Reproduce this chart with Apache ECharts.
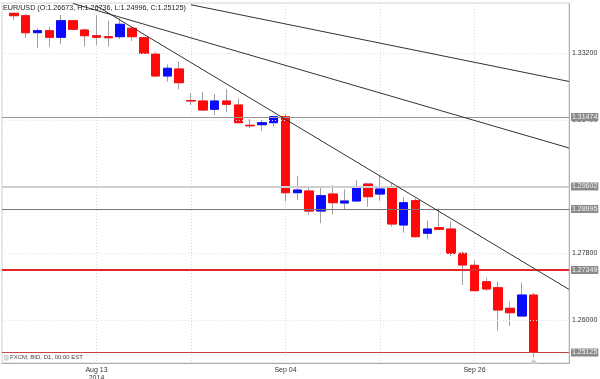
<!DOCTYPE html>
<html>
<head>
<meta charset="utf-8">
<script src="https://cdn.jsdelivr.net/npm/echarts@6/dist/echarts.min.js"></script>
<style>html,body{margin:0;padding:0;background:#fff;}#c{width:600px;height:379px;}</style>
</head>
<body>
<div id="c"></div>
<script>
// Trading days (with one empty day before and three after the data)
const dates = ['2014-08-01',
 '2014-08-04','2014-08-05','2014-08-06','2014-08-07','2014-08-08',
 '2014-08-11','2014-08-12','2014-08-13','2014-08-14','2014-08-15',
 '2014-08-18','2014-08-19','2014-08-20','2014-08-21','2014-08-22',
 '2014-08-25','2014-08-26','2014-08-27','2014-08-28','2014-08-29',
 '2014-09-01','2014-09-02','2014-09-03','2014-09-04','2014-09-05',
 '2014-09-08','2014-09-09','2014-09-10','2014-09-11','2014-09-12',
 '2014-09-15','2014-09-16','2014-09-17','2014-09-18','2014-09-19',
 '2014-09-22','2014-09-23','2014-09-24','2014-09-25','2014-09-26',
 '2014-09-29','2014-09-30','2014-10-01','2014-10-02','2014-10-03',
 '2014-10-06','2014-10-07','2014-10-08'];
const padBefore = 1, padAfter = 3;

const openP  = [1.34270,1.34206,1.33747,1.33801,1.33623,1.34071,1.33820,1.33666,1.33639,1.33639,1.33866,1.33612,1.33173,1.32580,1.32769,1.31919,1.31906,1.31682,1.31906,1.31798,1.31251,1.31267,1.31321,1.31483,1.29433,1.29479,1.28940,1.29398,1.29156,1.29210,1.29668,1.29398,1.29568,1.28563,1.29218,1.28339,1.28490,1.28455,1.27800,1.27476,1.27034,1.26872,1.26317,1.26109,1.26673];
const closeP = [1.34206,1.33747,1.33801,1.33623,1.34071,1.33839,1.33666,1.33623,1.33612,1.33974,1.33639,1.33192,1.32580,1.32788,1.32399,1.31906,1.31663,1.31906,1.31817,1.31321,1.31237,1.31321,1.31483,1.29433,1.29506,1.28940,1.29353,1.29164,1.29210,1.29568,1.29326,1.29533,1.28590,1.29164,1.28247,1.28455,1.28447,1.27800,1.27484,1.26791,1.26837,1.26271,1.26198,1.26675,1.25125];
const lowP   = [1.34090,1.33604,1.33327,1.33370,1.33435,1.33820,1.33370,1.33416,1.33370,1.33577,1.33524,1.33173,1.32566,1.32426,1.32221,1.31798,1.31650,1.31528,1.31601,1.31310,1.31170,1.31097,1.31213,1.29191,1.29229,1.28832,1.28608,1.28851,1.28967,1.29196,1.29056,1.29218,1.28517,1.28355,1.28226,1.28177,1.28442,1.27727,1.26945,1.26783,1.26791,1.25713,1.25839,1.26100,1.24996];
const highP  = [1.34290,1.34252,1.33866,1.33909,1.34225,1.34090,1.33866,1.34225,1.34071,1.34136,1.33909,1.33639,1.33235,1.32895,1.32965,1.32122,1.32157,1.32095,1.32221,1.31979,1.31421,1.31394,1.31501,1.31555,1.29884,1.29595,1.29595,1.29641,1.29525,1.29776,1.29681,1.29911,1.29687,1.29309,1.29282,1.28679,1.29013,1.28652,1.27845,1.27619,1.27142,1.27034,1.26495,1.27007,1.26736];

// Price grid and labelled levels
const gridLevels = [1.260, 1.278, 1.296, 1.314, 1.332];
const keyLevels  = [1.31474, 1.29602, 1.28995, 1.27349, 1.25125];
const keyColors  = ['#9a9a9a', '#d0d0d0', '#777777', '#e3262a', '#c84444'];
const keyWidths  = [1, 2, 1, 2, 1];

// Trend lines: [category index, price] pairs
const trendLines = [
  [[16, 1.34500], [48, 1.32432]],
  [[6, 1.34535], [48, 1.30639]],
  [[8, 1.34470], [48, 1.26826]]
];

const yMin = 1.24842, yMax = 1.34548;
const months = ['Jan','Feb','Mar','Apr','May','Jun','Jul','Aug','Sep','Oct','Nov','Dec'];

const pad = (arr) => Array(padBefore).fill('-').concat(arr, Array(padAfter).fill('-'));
const wickData = pad(openP.map((o, i) => [o, closeP[i], lowP[i], highP[i]]));
const bodyData = pad(openP.map((o, i) => [o, closeP[i], Math.min(o, closeP[i]), Math.max(o, closeP[i])]));
const n = openP.length - 1;
const titleText = 'EUR/USD (O:' + openP[n].toFixed(5) + ', H:' + highP[n].toFixed(5) +
  ', L:' + lowP[n].toFixed(5) + ', C:' + closeP[n].toFixed(5) + ')';

const FONT = 'Liberation Sans, Arial, sans-serif';
const chart = echarts.init(document.getElementById('c'));
chart.setOption({
  animation: false,
  backgroundColor: '#fff',
  title: {
    text: titleText, left: 3, top: 5, padding: 0,
    textStyle: {fontSize: 7.2, fontWeight: 'normal', color: '#222', fontFamily: FONT}
  },
  grid: {left: 2, right: 31, top: 3, bottom: 16, show: true, borderColor: '#d4d4d4', borderWidth: 1,
    backgroundColor: '#fff', containLabel: false, outerBoundsMode: 'none'},
  xAxis: {
    type: 'category', data: dates, boundaryGap: false,
    axisLine: {show: true, lineStyle: {color: '#aaa'}},
    axisTick: {show: false},
    splitLine: {show: true, interval: 7, lineStyle: {color: '#ddd', type: [1, 2]}},
    axisLabel: {
      interval: (idx) => idx % 16 === 8,
      margin: 3, fontSize: 7, lineHeight: 8, color: '#333', fontFamily: FONT,
      formatter: (v, idx) => {
        const d = new Date(v + 'T00:00:00');
        let s = months[d.getMonth()] + ' ' + String(d.getDate()).padStart(2, '0');
        if (idx === 8) s += '\n' + d.getFullYear();
        return s;
      }
    }
  },
  yAxis: {
    type: 'value', position: 'right', min: yMin, max: yMax,
    axisLine: {show: true, lineStyle: {color: '#b0b0b0'}},
    axisTick: {show: false}, axisLabel: {show: false}, splitLine: {show: false}
  },
  series: [
    {
      type: 'line', data: pad(openP.map(() => '-')), showSymbol: false, silent: true, z: 1,
      markLine: {
        silent: true, symbol: ['none', 'none'], animation: false, precision: 5,
        data: gridLevels.map(v => ({yAxis: v})),
        lineStyle: {color: '#ddd', type: [1, 2], width: 1},
        label: {show: true, position: 'end', distance: 3, fontSize: 7, color: '#333', fontFamily: FONT,
          formatter: (p) => Number(p.value).toFixed(5)}
      }
    },
    {
      type: 'candlestick', data: wickData, barWidth: 9, z: 2, silent: true,
      itemStyle: {color: 'rgba(0,0,0,0)', color0: 'rgba(0,0,0,0)', borderColor: '#a0a0a0', borderColor0: '#a0a0a0', borderWidth: 1}
    },
    {
      type: 'candlestick', data: bodyData, barWidth: 9, z: 3, silent: true,
      itemStyle: {color: '#0a0aff', color0: '#ff0a0a', borderColor: '#0a0aff', borderColor0: '#ff0a0a', borderWidth: 1},
      markPoint: {
        silent: true, animation: false,
        data: [{coord: [dates[padBefore + n], lowP[n]], symbol: 'triangle', symbolSize: [9, 5], symbolOffset: [0, 4],
          itemStyle: {color: '#cfcfcf'}, label: {show: false}}]
      },
      markLine: {
        silent: true, symbol: ['none', 'none'], animation: false, precision: 5,
        data: keyLevels.map((v, i) => ({
          yAxis: v,
          lineStyle: {color: keyColors[i], width: keyWidths[i], type: 'solid'},
          label: {show: true, position: 'end', distance: 2, fontSize: 7, lineHeight: 7, color: '#f4f4f4',
            backgroundColor: '#8a8a8a', padding: [1, 1, 0, 1], fontFamily: FONT,
            formatter: () => v.toFixed(5)}
        })).concat(trendLines.map(t => ([
          {coord: [t[0][0], t[0][1]], lineStyle: {color: '#333', width: 1, type: 'solid'}, label: {show: false}},
          {coord: [t[1][0], t[1][1]]}
        ])))
      }
    }
  ],
  graphic: [
    {type: 'rect', left: 4, top: 355, shape: {width: 4, height: 5}, style: {fill: '#ddd', stroke: '#bbb', lineWidth: 0.5}},
    {type: 'text', left: 10, top: 354.5, style: {text: 'FXCM, BID, D1, 00:00 EST', fontSize: 6, fill: '#444', fontFamily: FONT}}
  ]
});
</script>
</body>
</html>
